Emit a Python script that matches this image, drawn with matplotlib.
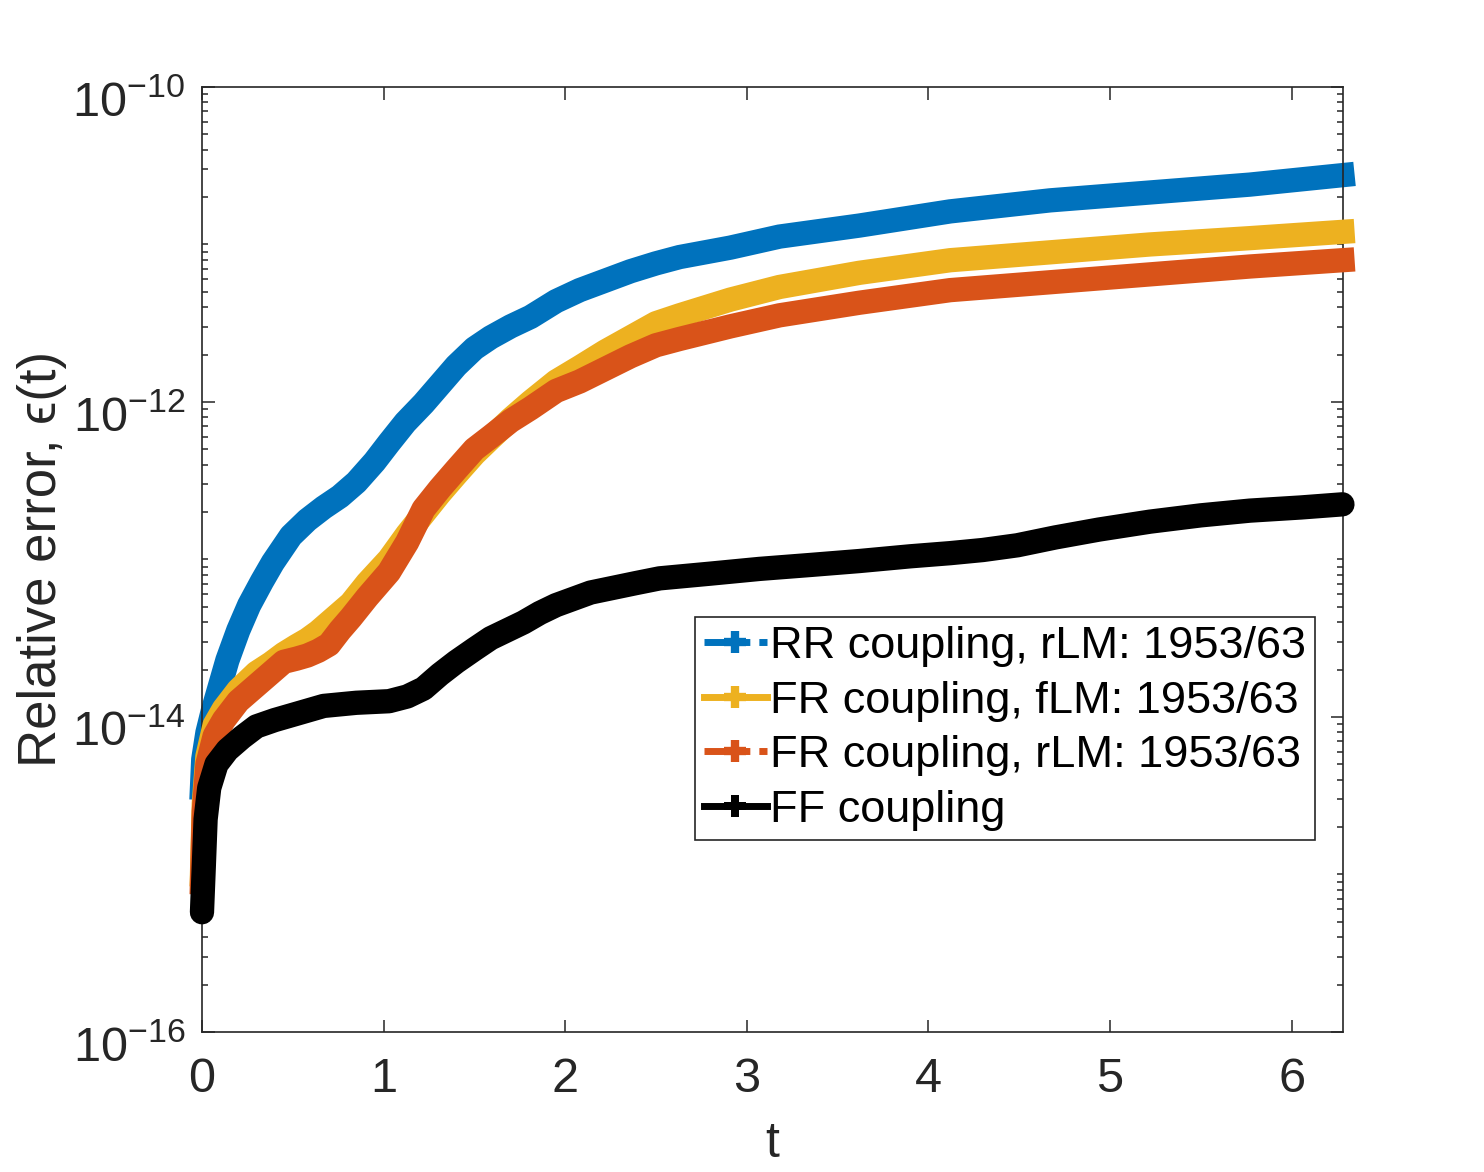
import numpy as np
import matplotlib
matplotlib.use("Agg")
import matplotlib.pyplot as plt
import matplotlib.transforms as mtransforms
from matplotlib.lines import Line2D
from matplotlib.ticker import LogLocator, NullFormatter, FixedLocator, FuncFormatter

plt.rcParams['font.family'] = ['Liberation Sans', 'DejaVu Sans']
plt.rcParams['mathtext.fontset'] = 'custom'
plt.rcParams['mathtext.rm'] = 'Liberation Sans'
plt.rcParams['mathtext.it'] = 'Liberation Sans:italic'

# values (log10 of the relative error)
t_rr = [0, 0.007, 0.03, 0.06, 0.1, 0.14, 0.2, 0.26, 0.33, 0.39, 0.49, 0.58, 0.67, 0.76, 0.85,
        0.95, 1.03, 1.12, 1.22, 1.31, 1.40, 1.5, 1.59, 1.70, 1.81, 1.95, 2.08, 2.22, 2.36, 2.5,
        2.63, 2.91, 3.18, 3.62, 4.12, 4.67, 5.22, 5.77, 6.28]
log_rr = [-14.45, -14.27, -14.1, -13.96, -13.8, -13.64, -13.45, -13.29, -13.14, -13.02, -12.85,
          -12.75, -12.67, -12.60, -12.51, -12.38, -12.26, -12.13, -12.01, -11.89, -11.77, -11.66,
          -11.59, -11.52, -11.46, -11.36, -11.29, -11.23, -11.17, -11.12, -11.08, -11.02, -10.95,
          -10.88, -10.79, -10.72, -10.67, -10.62, -10.56]

t_fr = [0, 0.01, 0.03, 0.07, 0.12, 0.2, 0.3, 0.38, 0.45, 0.52, 0.58, 0.64, 0.7, 0.76, 0.82,
        0.91, 1.03, 1.13, 1.22, 1.31, 1.40, 1.5, 1.59, 1.70, 1.81, 1.95, 2.08, 2.22, 2.36, 2.5,
        2.63, 2.91, 3.18, 3.62, 4.12, 4.67, 5.22, 5.77, 6.28]
log_fr_f = [-15.0, -14.55, -14.25, -14.05, -13.95, -13.83, -13.72, -13.66, -13.6, -13.55, -13.51,
            -13.46, -13.40, -13.34, -13.28, -13.15, -13.0, -12.84, -12.71, -12.58, -12.46,
            -12.33, -12.23, -12.11, -12.0, -11.87, -11.78, -11.68, -11.59, -11.50, -11.45,
            -11.35, -11.27, -11.18, -11.10, -11.05, -11.00, -10.96, -10.92]
log_fr_r = [-15.05, -14.6, -14.3, -14.12, -14.02, -13.9, -13.8, -13.72, -13.65, -13.63, -13.61,
            -13.58, -13.54, -13.45, -13.37, -13.24, -13.08, -12.89, -12.68, -12.55, -12.43,
            -12.30, -12.22, -12.12, -12.04, -11.93, -11.87, -11.79, -11.71, -11.64, -11.60,
            -11.52, -11.45, -11.37, -11.29, -11.24, -11.19, -11.14, -11.10]

t_ff = [0, 0.01, 0.02, 0.04, 0.08, 0.14, 0.22, 0.3, 0.4, 0.49, 0.58, 0.67, 0.76, 0.85, 0.94,
        1.03, 1.13, 1.22, 1.31, 1.40, 1.5, 1.59, 1.68, 1.77, 1.86, 1.95, 2.14, 2.39, 2.52, 2.8,
        3.07, 3.35, 3.62, 3.9, 4.12, 4.3, 4.49, 4.7, 4.94, 5.22, 5.5, 5.77, 6.05, 6.28]
log_ff = [-15.24, -14.95, -14.65, -14.45, -14.3, -14.21, -14.13, -14.06, -14.02, -13.99, -13.96,
          -13.93, -13.92, -13.91, -13.905, -13.90, -13.87, -13.82, -13.73, -13.65, -13.57, -13.5,
          -13.45, -13.4, -13.34, -13.29, -13.21, -13.15, -13.12, -13.09, -13.06, -13.035, -13.01,
          -12.98, -12.96, -12.94, -12.91, -12.86, -12.81, -12.76, -12.72, -12.69, -12.67, -12.65]

labels = ["RR coupling, rLM: 1953/63", "FR coupling, fLM: 1953/63",
          "FR coupling, rLM: 1953/63", "FF coupling"]
colors = ["#0072BD", "#EDB120", "#D95319", "black"]

fig = plt.figure(figsize=(14.84, 11.72), dpi=100)
ax = fig.add_axes([0.1361, 0.1195, 0.7689, 0.8063])

series = [(t_rr, log_rr), (t_fr, log_fr_f), (t_fr, log_fr_r), (t_ff, log_ff)]
for i, (tt, ly) in enumerate(series):
    cap = 'round' if i == 3 else 'projecting'
    ax.plot(tt, 10.0 ** np.array(ly), color=colors[i], lw=17.5,
            solid_capstyle=cap, solid_joinstyle='round', clip_on=False, zorder=2 + i)

ax.set_yscale('log')
ax.set_ylim(1e-16, 1e-10)
ax.set_xlim(0, 2 * np.pi)
ax.xaxis.set_major_locator(FixedLocator([0, 1, 2, 3, 4, 5, 6]))
ax.yaxis.set_major_locator(FixedLocator([1e-16, 1e-14, 1e-12, 1e-10]))
ax.yaxis.set_minor_locator(LogLocator(base=10, subs=np.arange(1, 10), numticks=30))
ax.yaxis.set_minor_formatter(NullFormatter())
ax.yaxis.set_major_formatter(
    FuncFormatter(lambda v, p: r'$\mathregular{10^{%d}}$' % round(np.log10(v))))

axcol = '#262626'
for s in ax.spines.values():
    s.set_color(axcol)
    s.set_linewidth(1.2)
ax.tick_params(which='both', direction='in', top=True, right=True, colors=axcol,
               labelsize=35, width=1.1)
ax.tick_params(which='major', length=9)
ax.tick_params(which='minor', length=4.5)
ax.tick_params(axis='x', pad=18)
ax.tick_params(axis='y', pad=12)

# y tick labels sit a little lower in the original
shift = mtransforms.ScaledTranslation(0, -8 / 72, fig.dpi_scale_trans)
for lab in ax.get_yticklabels():
    lab.set_transform(lab.get_transform() + shift)

ax.set_xlabel("t", fontsize=36, color=axcol, labelpad=14)
ax.set_ylabel("Relative error, ϵ(t)", fontsize=38, color=axcol, labelpad=4)

styles = [(0, (6.6, 1.3)), '-', (0, (6.6, 1.3)), '-']
markers = ['+', '+', '+', 'P']
handles = []
for i in range(4):
    handles.append(Line2D([], [], color=colors[i], lw=5, ls=styles[i], marker=markers[i],
                          markersize=16, markeredgewidth=6 if markers[i] == '+' else 0))
leg = ax.legend(handles, labels, loc='upper left', bbox_to_anchor=(0.432, 0.4391),
                borderaxespad=0, fontsize=32.5, handlelength=1.39, handletextpad=0.07,
                labelspacing=0.3, borderpad=0.2, fancybox=False, framealpha=1,
                edgecolor=axcol)
leg.get_frame().set_linewidth(1.2)
leg.set_zorder(10)

fig.savefig("out.png", dpi=100)
